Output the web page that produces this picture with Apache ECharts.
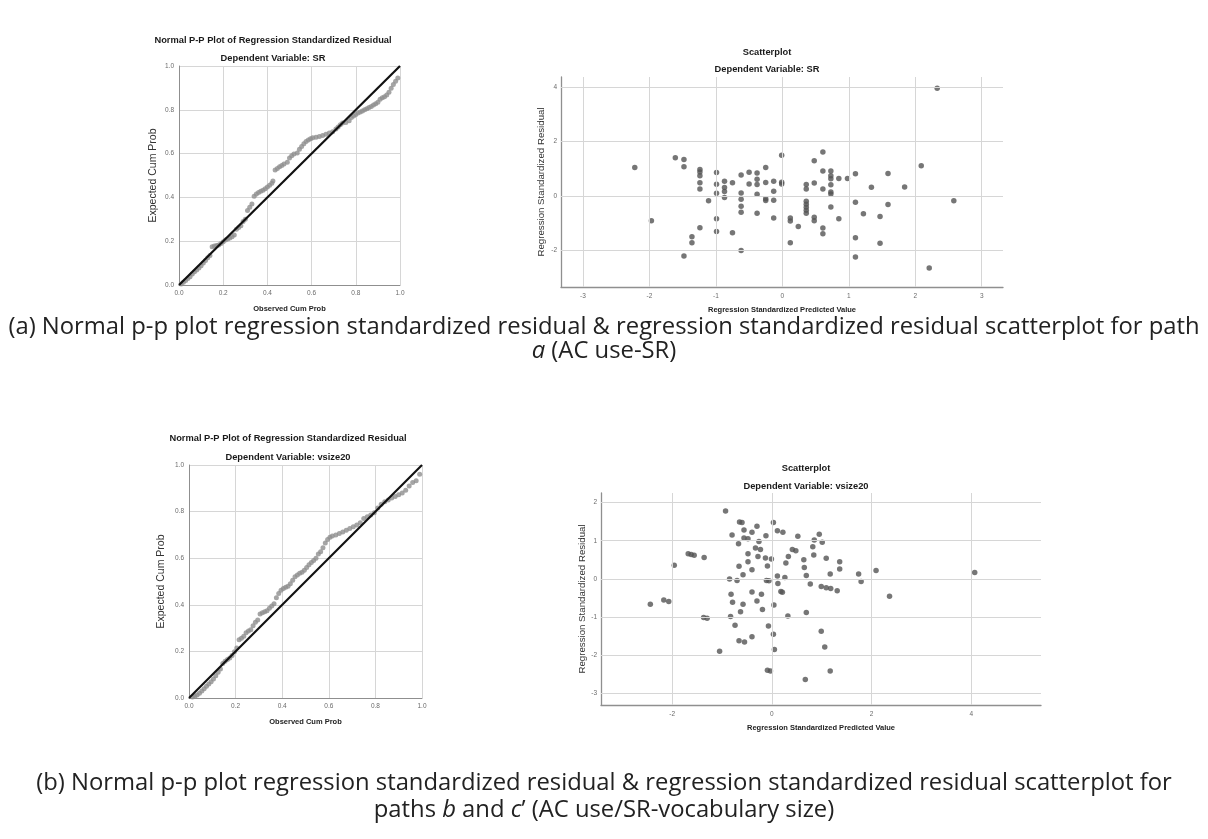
<!DOCTYPE html>
<html>
<head>
<meta charset="utf-8">
<script src="https://cdn.jsdelivr.net/npm/echarts@6/dist/echarts.min.js"></script>
<style>
html, body { margin: 0; padding: 0; background: #fff; }
#chart { width: 1208px; height: 839px; }
</style>
</head>
<body>
<div id="chart"></div>
<script>
// P-P plot, dependent variable SR
var ppSrObserved = [0.01, 0.02, 0.03, 0.04, 0.05, 0.06, 0.07, 0.08, 0.09, 0.10, 0.11, 0.12, 0.13, 0.14,
  0.15, 0.16, 0.17, 0.18, 0.19, 0.20, 0.21, 0.22, 0.23, 0.24, 0.25, 0.26, 0.27, 0.28, 0.29, 0.30,
  0.31, 0.32, 0.33, 0.34, 0.35, 0.36, 0.37, 0.38, 0.39, 0.40, 0.41, 0.42, 0.425,
  0.435, 0.445, 0.455, 0.465, 0.475, 0.49, 0.50, 0.51, 0.52, 0.535, 0.545, 0.555, 0.565, 0.575, 0.585, 0.595, 0.605,
  0.62, 0.635, 0.65, 0.665, 0.68, 0.695, 0.71, 0.72, 0.73, 0.74, 0.755, 0.77, 0.78, 0.79, 0.80, 0.81, 0.82,
  0.83, 0.84, 0.85, 0.86, 0.87, 0.88, 0.89, 0.90, 0.91, 0.92, 0.93, 0.94, 0.95, 0.96, 0.97, 0.98, 0.99]
var ppSrExpected = [0.005, 0.012, 0.02, 0.03, 0.038, 0.05, 0.06, 0.068, 0.078, 0.088, 0.10, 0.112, 0.125, 0.135,
  0.175, 0.178, 0.18, 0.183, 0.19, 0.198, 0.205, 0.21, 0.215, 0.22, 0.228, 0.255, 0.262, 0.27, 0.29, 0.30,
  0.34, 0.355, 0.37, 0.405, 0.415, 0.422, 0.428, 0.433, 0.44, 0.448, 0.455, 0.465, 0.475,
  0.525, 0.532, 0.54, 0.546, 0.552, 0.56, 0.58, 0.59, 0.598, 0.603, 0.62, 0.632, 0.645, 0.655, 0.662, 0.668, 0.672,
  0.675, 0.678, 0.683, 0.688, 0.694, 0.70, 0.712, 0.722, 0.732, 0.74, 0.742, 0.75, 0.765, 0.772, 0.778, 0.785, 0.79,
  0.795, 0.80, 0.805, 0.81, 0.815, 0.822, 0.828, 0.835, 0.848, 0.855, 0.86, 0.868, 0.88, 0.898, 0.915, 0.93, 0.945]

// P-P plot, dependent variable vsize20
var ppVsObserved = [0.015, 0.025, 0.035, 0.045, 0.055, 0.065, 0.075, 0.085, 0.095, 0.105, 0.115, 0.125, 0.135,
  0.145, 0.155, 0.165, 0.175, 0.185, 0.195, 0.205, 0.215, 0.225, 0.235, 0.245, 0.255, 0.265, 0.275, 0.285, 0.295,
  0.305, 0.315, 0.325, 0.335, 0.345, 0.355, 0.365, 0.375, 0.385, 0.395, 0.405, 0.415, 0.425, 0.435, 0.445,
  0.455, 0.465, 0.475, 0.485, 0.495, 0.505, 0.515, 0.525, 0.535, 0.545, 0.555, 0.565, 0.575, 0.585, 0.595,
  0.605, 0.615, 0.63, 0.645, 0.66, 0.675, 0.69, 0.705, 0.72, 0.735, 0.75, 0.765, 0.78, 0.795, 0.81, 0.825,
  0.84, 0.855, 0.87, 0.885, 0.90, 0.915, 0.93, 0.945, 0.96, 0.975, 0.99]
var ppVsExpected = [0.004, 0.008, 0.013, 0.02, 0.03, 0.04, 0.05, 0.06, 0.07, 0.082, 0.095, 0.11, 0.125,
  0.148, 0.158, 0.165, 0.172, 0.182, 0.198, 0.215, 0.25, 0.256, 0.265, 0.28, 0.288, 0.293, 0.31, 0.325, 0.335,
  0.36, 0.366, 0.37, 0.375, 0.385, 0.395, 0.405, 0.43, 0.448, 0.462, 0.47, 0.475, 0.48, 0.49, 0.505,
  0.52, 0.528, 0.535, 0.54, 0.548, 0.56, 0.572, 0.582, 0.59, 0.60, 0.618, 0.628, 0.645, 0.665, 0.68,
  0.69, 0.695, 0.70, 0.706, 0.712, 0.72, 0.728, 0.735, 0.742, 0.752, 0.77, 0.778, 0.785, 0.795, 0.815, 0.832,
  0.842, 0.85, 0.858, 0.865, 0.872, 0.88, 0.892, 0.91, 0.925, 0.932, 0.96]

// residual scatter, dependent variable SR
var srPredicted = [-2.22, -1.97, -1.61, -1.48, -1.48, -1.48, -1.36, -1.36, -1.24, -1.24, -1.24, -1.24, -1.24, -1.24,
  -1.11, -0.99, -0.99, -0.99, -0.99, -0.99, -0.87, -0.87, -0.87, -0.87, -0.75, -0.75,
  -0.62, -0.62, -0.62, -0.62, -0.62, -0.62, -0.50, -0.50, -0.38, -0.38, -0.38, -0.38, -0.38,
  -0.25, -0.25, -0.25, -0.25, -0.13, -0.13, -0.13, -0.13, -0.01, -0.01, -0.01,
  0.12, 0.12, 0.12, 0.24, 0.36, 0.36, 0.36, 0.36, 0.36, 0.36, 0.36, 0.48, 0.48, 0.48, 0.48,
  0.61, 0.61, 0.61, 0.61, 0.61, 0.73, 0.73, 0.73, 0.73, 0.73, 0.73, 0.73, 0.85, 0.85, 0.98,
  1.10, 1.10, 1.10, 1.10, 1.22, 1.34, 1.47, 1.47, 1.59, 1.59, 1.84, 2.09, 2.21, 2.33, 2.58]
var srResidual = [1.04, -0.91, 1.40, 1.34, 1.07, -2.21, -1.50, -1.72, 0.97, 0.88, 0.74, 0.48, 0.25, -1.17,
  -0.18, 0.86, 0.43, 0.10, -0.84, -1.31, 0.54, 0.31, 0.16, -0.06, 0.48, -1.36,
  0.77, 0.11, -0.12, -0.38, -0.60, -2.01, 0.87, 0.44, 0.84, 0.61, 0.42, 0.06, -0.64,
  1.04, 0.49, -0.11, -0.17, 0.54, 0.17, -0.16, -0.81, 1.49, 0.50, 0.44,
  -0.81, -0.92, -1.72, -1.13, 0.42, 0.25, -0.20, -0.31, -0.42, -0.53, -0.64, 1.29, 0.47, -0.79, -0.91,
  1.61, 0.91, 0.25, -1.18, -1.39, 0.91, 0.74, 0.63, 0.41, 0.14, 0.07, -0.41, 0.64, -0.84, 0.64,
  0.81, -0.23, -1.54, -2.25, -0.66, 0.32, -0.76, -1.74, 0.82, -0.32, 0.33, 1.11, -2.65, 3.96, -0.18]

// residual scatter, dependent variable vsize20
var vsPredicted = [-2.44, -2.17, -2.07, -1.96, -1.68, -1.62, -1.56, -1.36, -1.37, -1.30, -1.05, -0.93,
  -0.85, -0.82, -0.83, -0.80, -0.79, -0.74, -0.70, -0.67, -0.66, -0.66, -0.65, -0.60, -0.63, -0.58, -0.58,
  -0.56, -0.56, -0.55, -0.48, -0.48, -0.48, -0.40, -0.40, -0.40, -0.40, -0.33, -0.30, -0.30, -0.28, -0.26,
  -0.23, -0.21, -0.19, -0.13, -0.12, -0.09, -0.11, -0.06, -0.07, -0.09, -0.03, -0.01, 0.03, 0.04, 0.03, 0.05,
  0.11, 0.12, 0.11, 0.18, 0.21, 0.22, 0.26, 0.28, 0.33, 0.32, 0.41, 0.48, 0.52, 0.64, 0.65, 0.69, 0.69, 0.67,
  0.77, 0.82, 0.84, 0.85, 0.95, 0.99, 0.99, 1.01, 1.06, 1.09, 1.09, 1.17, 1.18, 1.17, 1.31, 1.36, 1.36,
  1.74, 1.79, 2.09, 2.36, 4.07]
var vsResidual = [-0.66, -0.55, -0.59, 0.36, 0.66, 0.64, 0.62, 0.56, -1.01, -1.03, -1.89, 1.78,
  0.00, -0.40, -0.98, 1.15, -0.61, -1.21, -0.04, 0.92, 0.33, -1.62, 1.49, 1.48, -0.86, 0.11, -0.66,
  1.28, 1.07, -1.65, 1.05, 0.66, 0.45, 1.22, 0.24, -0.34, -1.51, 0.81, 1.38, -0.58, 0.59, 0.98,
  0.77, -0.40, -0.80, 0.55, 1.13, 0.34, -0.04, -0.05, -1.23, -2.39, -2.41, 0.52, 1.48, -0.68, -1.45, -1.85,
  0.08, -0.12, 1.26, -0.33, -0.35, 1.22, 0.04, 0.42, 0.59, -0.97, 0.77, 0.74, 1.12, 0.50, 0.30, 0.09, -0.88, -2.63,
  -0.13, 0.84, 0.63, 1.02, 1.17, -0.20, -1.37, 0.96, -1.78, 0.54, -0.23, 0.13, -0.25, -2.41, -0.31, 0.45, 0.26,
  0.13, -0.07, 0.22, -0.45, 0.17]

// tick labels
var ppTicks = [0, 0.2, 0.4, 0.6, 0.8, 1.0]
var srXTicks = [-3, -2, -1, 0, 1, 2, 3]
var srYTicks = [-2, 0, 2, 4]
var vsXTicks = [-2, 0, 2, 4]
var vsYTicks = [-3, -2, -1, 0, 1, 2]

function pairs (xs, ys) {
  return xs.map(function (x, i) { return [x, ys[i]] })
}

var gridColor = '#d6d6d6'
var axisColor = '#8f8f8f'
var labelStyle = { color: '#6a6a6a', fontSize: 6.5, fontFamily: 'Liberation Sans' }
var yNameStyle = { color: '#333', fontFamily: 'Liberation Sans', fontSize: 10.5 }
var xNameStyle = { color: '#222', fontFamily: 'Liberation Sans', fontSize: 7.5, fontWeight: 'bold' }

function ppXAxis (idx) {
  return {
    type: 'value', gridIndex: idx, min: 0, max: 1, interval: 0.2,
    name: 'Observed Cum Prob', nameLocation: 'middle', nameGap: 20, nameTextStyle: xNameStyle,
    axisLine: { onZero: false, lineStyle: { color: axisColor } },
    axisTick: { show: false },
    axisLabel: Object.assign({ margin: 5, formatter: function (v) { return v.toFixed(1) } }, labelStyle),
    splitLine: { lineStyle: { color: gridColor } }
  }
}
function ppYAxis (idx, gap) {
  return {
    type: 'value', gridIndex: idx, min: 0, max: 1, interval: 0.2,
    name: 'Expected Cum Prob', nameLocation: 'middle', nameGap: gap, nameTextStyle: yNameStyle,
    axisLine: { show: true, onZero: false, lineStyle: { color: axisColor } },
    axisTick: { show: false },
    axisLabel: Object.assign({ margin: 5, formatter: function (v) { return v.toFixed(1) } }, labelStyle),
    splitLine: { lineStyle: { color: gridColor } }
  }
}
function scXAxis (idx, min, max, ticks) {
  return {
    type: 'value', gridIndex: idx, min: min, max: max,
    name: 'Regression Standardized Predicted Value', nameLocation: 'middle', nameGap: 19, nameTextStyle: xNameStyle,
    axisLine: { onZero: false, lineStyle: { color: axisColor, width: 1.3 } },
    axisTick: { show: false, customValues: ticks },
    axisLabel: Object.assign({ margin: 6, customValues: ticks }, labelStyle),
    splitLine: { show: false }
  }
}
function scYAxis (idx, min, max, ticks, gap) {
  return {
    type: 'value', gridIndex: idx, min: min, max: max,
    name: 'Regression Standardized Residual', nameLocation: 'middle', nameGap: gap,
    nameTextStyle: Object.assign({}, yNameStyle, { fontSize: 9.7 }),
    axisLine: { show: true, onZero: false, lineStyle: { color: axisColor, width: 1.3 } },
    axisTick: { show: false, customValues: ticks },
    axisLabel: Object.assign({ margin: 4, customValues: ticks }, labelStyle),
    splitLine: { show: false }
  }
}
function gridLines (idx, xTicks, yTicks) {
  var lines = xTicks.map(function (v) { return { xAxis: v } })
    .concat(yTicks.map(function (v) { return { yAxis: v } }))
  return {
    type: 'scatter', xAxisIndex: idx, yAxisIndex: idx, data: [], z: 1, silent: true,
    markLine: {
      silent: true, symbol: ['none', 'none'], label: { show: false },
      lineStyle: { color: gridColor, width: 1, type: 'solid' },
      emphasis: { disabled: true },
      data: lines
    }
  }
}
function ppDots (idx, xs, ys) {
  return {
    type: 'scatter', xAxisIndex: idx, yAxisIndex: idx, data: pairs(xs, ys), z: 2,
    symbolSize: 5, itemStyle: { color: '#8e8e8e' }
  }
}
function diagonal (idx) {
  return {
    type: 'line', xAxisIndex: idx, yAxisIndex: idx, data: [[0, 0], [1, 1]], z: 3,
    showSymbol: false, lineStyle: { color: '#111', width: 2.2 }
  }
}
function resDots (idx, xs, ys) {
  return {
    type: 'scatter', xAxisIndex: idx, yAxisIndex: idx, data: pairs(xs, ys), z: 3,
    symbolSize: 5.5, itemStyle: { color: '#545454' }
  }
}
function label (x, y, text, size, weight) {
  return {
    type: 'text', x: x, y: y, silent: true,
    style: { text: text, fontFamily: 'Liberation Sans', fontSize: size, fontWeight: weight || 'bold', fill: '#1a1a1a', align: 'center', verticalAlign: 'middle' }
  }
}
var capFont = { fontFamily: 'Open Sans', fontSize: 23.8, fill: '#222' }
function caption (x, y, text) {
  return {
    type: 'text', x: x, y: y, silent: true,
    style: Object.assign({
      text: text, align: 'center', verticalAlign: 'middle',
      rich: { i: Object.assign({ fontStyle: 'italic' }, capFont) }
    }, capFont)
  }
}

var chart = echarts.init(document.getElementById('chart'))
chart.setOption({
  animation: false,
  backgroundColor: '#fff',
  grid: [
    { left: 179, top: 66, width: 221, height: 219 },
    { left: 561, top: 77, width: 442, height: 210 },
    { left: 189, top: 465, width: 233, height: 233 },
    { left: 601, top: 493, width: 440, height: 212 }
  ],
  xAxis: [
    ppXAxis(0),
    scXAxis(1, -3.33, 3.32, srXTicks),
    ppXAxis(2),
    scXAxis(3, -3.43, 5.4, vsXTicks)
  ],
  yAxis: [
    ppYAxis(0, 20),
    scYAxis(1, -3.35, 4.37, srYTicks, 15),
    ppYAxis(2, 22),
    scYAxis(3, -3.3, 2.25, vsYTicks, 14)
  ],
  series: [
    ppDots(0, ppSrObserved, ppSrExpected),
    diagonal(0),
    gridLines(1, srXTicks, srYTicks),
    resDots(1, srPredicted, srResidual),
    ppDots(2, ppVsObserved, ppVsExpected),
    diagonal(2),
    gridLines(3, vsXTicks, vsYTicks),
    resDots(3, vsPredicted, vsResidual)
  ],
  graphic: [
    label(273, 40, 'Normal P-P Plot of Regression Standardized Residual', 9.3),
    label(273, 58, 'Dependent Variable: SR', 9.3),
    label(767, 52, 'Scatterplot', 9.3),
    label(767, 69, 'Dependent Variable: SR', 9.3),
    label(288, 438, 'Normal P-P Plot of Regression Standardized Residual', 9.3),
    label(288, 457, 'Dependent Variable: vsize20', 9.3),
    label(806, 468, 'Scatterplot', 9.3),
    label(806, 486, 'Dependent Variable: vsize20', 9.3),
    caption(604, 327, '(a) Normal p-p plot regression standardized residual & regression standardized residual scatterplot for path'),
    caption(604, 351, '{i|a} (AC use-SR)'),
    caption(604, 783, '(b) Normal p-p plot regression standardized residual & regression standardized residual scatterplot for'),
    caption(604, 810, 'paths {i|b} and {i|c}’ (AC use/SR-vocabulary size)')
  ]
})
</script>
</body>
</html>
